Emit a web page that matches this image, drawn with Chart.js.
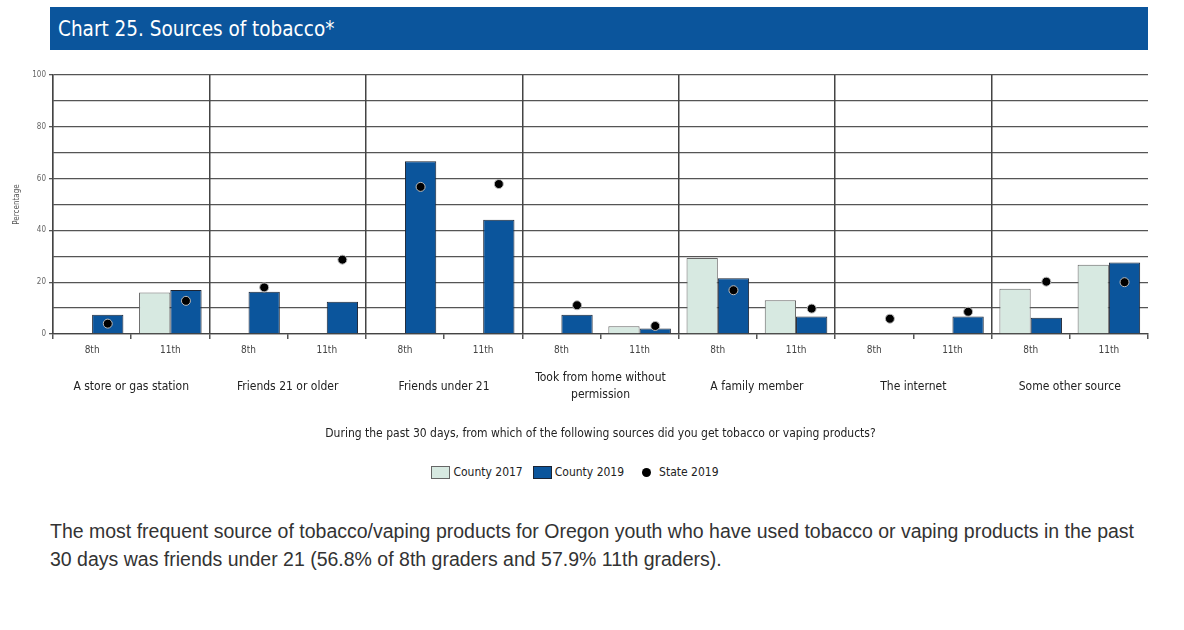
<!DOCTYPE html>
<html>
<head>
<meta charset="utf-8">
<script src="https://cdn.jsdelivr.net/npm/chart.js@4.4.0/dist/chart.umd.min.js"></script>
<style>
  body { margin: 0; background: #fff; width: 1184px; height: 630px; position: relative; overflow: hidden;
         font-family: "Liberation Sans Narrow", "DejaVu Sans Condensed", "Liberation Sans", Arial, sans-serif; }
  #titlebar { position: absolute; left: 50px; top: 7px; width: 1098px; height: 43px; background: #0b559c; }
  #titlebar span { position: absolute; left: 8px; top: 10px; color: #fff; font-size: 20.5px; }
  #wrap { position: absolute; left: 0; top: 55px; width: 1165px; height: 394px; }
  #legend { position: absolute; top: 464px; left: 0; width: 1150px; text-align: center; font-size: 12px; color: #222; }
  #legend .item { display: inline-block; margin: 0 5px; vertical-align: middle; }
  #legend .box { display: inline-block; width: 19px; height: 13px; vertical-align: middle; margin-right: 3px; box-sizing: border-box; }
  #legend .dot { display: inline-block; width: 9px; height: 9px; border-radius: 50%; vertical-align: middle; margin-right: 8px; margin-left: 8px; }
  #note { position: absolute; left: 50px; top: 517px; font-family: "Liberation Sans", Arial, sans-serif; font-size: 19.5px;
          line-height: 28px; color: #333; white-space: nowrap; }
</style>
</head>
<body>
<div id="titlebar"><span>Chart 25. Sources of tobacco*</span></div>
<div id="wrap"><canvas id="chart"></canvas></div>
<div id="legend"></div>
<div id="note">The most frequent source of tobacco/vaping products for Oregon youth who have used tobacco or vaping products in the past<br>30 days was friends under 21 (56.8% of 8th graders and 57.9% 11th graders).</div>
<script>
// source groups (two grades each)
var groups = ["A store or gas station", "Friends 21 or older", "Friends under 21",
  ["Took from home without", "permission"], "A family member", "The internet", "Some other source"];
var grades = ["8th", "11th"];
// one entry per group+grade
var county2017 = [null, 16.0, null, null, null, null, null, 3.0, 29.3, 13.0, null, null, 17.5, 26.7];
var county2019 = [7.4, 17.0, 16.3, 12.5, 66.7, 44.1, 7.4, 2.1, 21.5, 6.8, null, 6.8, 6.3, 27.6];
var state2019 = [4.0, 12.8, 18.0, 28.7, 56.8, 57.9, 11.1, 3.1, 16.9, 9.8, 5.9, 8.6, 20.2, 20.0];
var yTicks = [0, 20, 40, 60, 80, 100];

var labels = [];
groups.forEach(function () { grades.forEach(function (g) { labels.push(g); }); });

var fontName = '"Liberation Sans Narrow", "DejaVu Sans Condensed", "Liberation Sans", Arial, sans-serif';
var lightFill = "#d7e9e1";
var blueFill = "#0b559c";

// put the state dots over the County 2019 bar
var dotShift = {
  id: "dotShift",
  afterDatasetsUpdate: function (chart) {
    var bars = chart.getDatasetMeta(1).data;
    var pts = chart.getDatasetMeta(2).data;
    pts.forEach(function (p, i) {
      if (bars[i] && isFinite(bars[i].x)) p.x = bars[i].x;
    });
  }
};

var chart = new Chart(document.getElementById("chart"), {
  type: "bar",
  data: {
    labels: labels,
    datasets: [
      { label: "County 2017", data: county2017, backgroundColor: lightFill, borderColor: "#666", borderWidth: 1,
        categoryPercentage: 0.8, barPercentage: 1.0, order: 1 },
      { label: "County 2019", data: county2019, backgroundColor: blueFill, borderColor: "#1c2433", borderWidth: 1,
        categoryPercentage: 0.8, barPercentage: 1.0, order: 1 },
      { label: "State 2019", type: "line", data: state2019, showLine: false, pointRadius: 4.5, order: 0,
        pointBackgroundColor: "#000", pointBorderColor: "#bbb", pointBorderWidth: 1 }
    ]
  },
  options: {
    responsive: true,
    maintainAspectRatio: false,
    animation: false,
    layout: { padding: { top: 20, right: 17, left: 12, bottom: 0 } },
    plugins: { legend: { display: false }, tooltip: { enabled: false } },
    scales: {
      y: {
        min: 0, max: 100,
        afterFit: function (s) { s.width = 41; },
        ticks: { stepSize: 10, color: "#666", font: { family: fontName, size: 8 }, padding: 3,
          callback: function (v) { return yTicks.indexOf(v) >= 0 ? v : ""; } },
        grid: { color: "#555", lineWidth: 1.3, tickLength: 4,
          tickColor: function (c) { return c.tick && yTicks.indexOf(c.tick.value) >= 0 ? "#555" : "rgba(0,0,0,0)"; } },
        border: { color: "#444", width: 1.3 },
        title: { display: true, text: "Percentage", color: "#555", font: { family: fontName, size: 8 }, padding: 0 }
      },
      x: {
        afterFit: function (s) { s.height = 37; },
        ticks: { color: "#444", font: { family: fontName, size: 10 }, padding: 5, autoSkip: false, maxRotation: 0 },
        grid: { offset: true, lineWidth: 1.5, tickLength: 5,
          color: function (c) { return c.index % 2 === 0 ? "#444" : "rgba(0,0,0,0)"; },
          tickColor: "#555" },
        border: { color: "#444", width: 1.3 }
      },
      x2: {
        type: "category",
        labels: groups,
        position: "bottom",
        offset: true,
        grid: { display: false, drawTicks: false },
        border: { display: false },
        ticks: { color: "#222", font: { family: fontName, size: 12, lineHeight: 1.4 }, padding: 7,
          autoSkip: false, maxRotation: 0, crossAlign: "center" },
        title: { display: true, color: "#222", font: { family: fontName, size: 12 },
          text: "During the past 30 days, from which of the following sources did you get tobacco or vaping products?",
          padding: { top: 8, bottom: 8 } }
      }
    }
  },
  plugins: [dotShift]
});

// legend built from the datasets
var legendDiv = document.getElementById("legend");
chart.data.datasets.forEach(function (ds) {
  var item = document.createElement("span");
  item.className = "item";
  var mark = document.createElement("span");
  if (ds.type === "line") {
    mark.className = "dot";
    mark.style.background = ds.pointBackgroundColor;
  } else {
    mark.className = "box";
    mark.style.background = ds.backgroundColor;
    mark.style.border = "1px solid " + ds.borderColor;
  }
  item.appendChild(mark);
  item.appendChild(document.createTextNode(ds.label));
  legendDiv.appendChild(item);
});
</script>
</body>
</html>
